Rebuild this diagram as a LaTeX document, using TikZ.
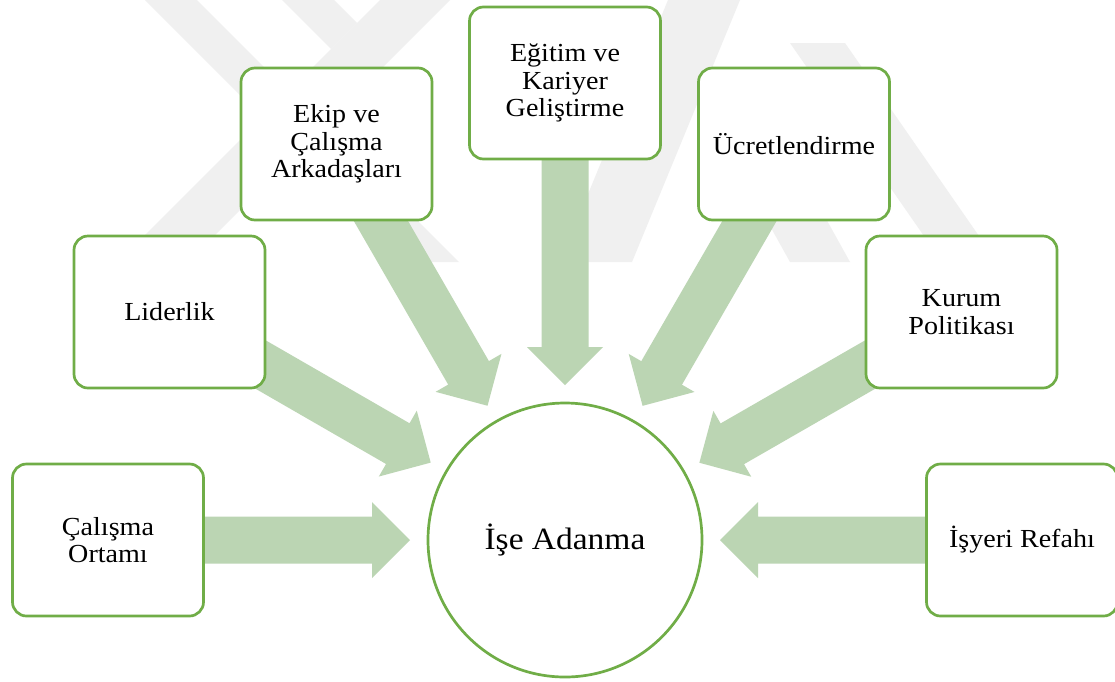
\documentclass[tikz,border=0pt]{standalone}
\usepackage{fontspec}
\setmainfont{Liberation Serif}[FakeStretch=1.08]
\usetikzlibrary{calc,backgrounds}
\definecolor{boxgreen}{HTML}{70AD47}
\definecolor{arrowgreen}{HTML}{BBD5B3}
\definecolor{wmgray}{RGB}{240,240,240}
\tikzset{
  box/.style={draw=boxgreen, line width=2.7pt, fill=white, rounded corners=14pt,
    minimum width=191pt, minimum height=152pt, align=center, inner sep=0pt,
    font=\fontsize{26}{27.5}\selectfont},
  hub/.style={circle, draw=boxgreen, line width=2.7pt, fill=white,
    minimum size=274pt, inner sep=0pt, font=\fontsize{31}{33}\selectfont},
  wm/.style={fill=wmgray, draw=none},
  blockarrow/.style={fill=arrowgreen, draw=none}
}
\newcommand{\convarrow}[2]{%
  \coordinate (T) at ($(#2.center)!155pt!(#1.center)$);
  \coordinate (B) at ($(#2.center)!193pt!(#1.center)$);
  \coordinate (S) at (#1.center);
  \fill[blockarrow] ($(S)!23.5pt!90:(T)$) -- ($(B)!23.5pt!-90:(S)$)
    -- ($(B)!38pt!-90:(S)$) -- (T) -- ($(B)!38pt!90:(S)$)
    -- ($(B)!23.5pt!90:(S)$) -- ($(S)!23.5pt!-90:(T)$) -- cycle;
}
\begin{document}
\begin{tikzpicture}[x=1pt,y=-1pt]
\useasboundingbox (0,0) rectangle (1115,681);

\node[hub] (hub) at (565,540) {İşe Adanma};
\node[box] (calisma) at (108,540) {Çalışma\\Ortamı};
\node[box] (lider) at (169.5,312) {Liderlik};
\node[box] (ekip) at (336.5,144) {Ekip ve\\Çalışma\\Arkadaşları};
\node[box] (egitim) at (565,83) {Eğitim ve\\Kariyer\\Geliştirme};
\node[box] (ucret) at (794,144) {Ücretlendirme};
\node[box] (kurum) at (961.5,312) {Kurum\\Politikası};
\node[box] (isyeri) at (1022,540) {İşyeri Refahı};

\begin{scope}[on background layer]
  \fill[white] (0,0) rectangle (1115,681);
  % faint watermark
  \fill[wm] (145,0) -- (197,0) -- (459,262) -- (407,262) -- cycle;
  \fill[wm] (380,0) -- (450,0) -- (188,262) -- (118,262) -- cycle;
  \fill[wm] (282,0) -- (334,0) -- (357,23) -- (331,49) -- cycle;
  \fill[wm] (668,0) -- (740,0) -- (632,262) -- (560,262) -- cycle;
  \fill[wm] (790,43) -- (845,43) -- (997,262) -- (942,262) -- cycle;
  \fill[wm] (700,100) -- (760,100) -- (850,262) -- (790,262) -- cycle;
  % arrows
  \convarrow{calisma}{hub}
  \convarrow{lider}{hub}
  \convarrow{ekip}{hub}
  \convarrow{egitim}{hub}
  \convarrow{ucret}{hub}
  \convarrow{kurum}{hub}
  \convarrow{isyeri}{hub}
\end{scope}
\end{tikzpicture}
\end{document}
